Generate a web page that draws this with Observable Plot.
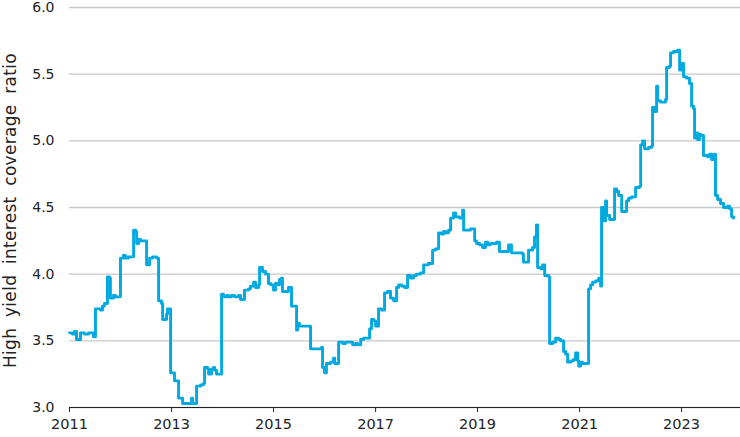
<!DOCTYPE html>
<html><head><meta charset="utf-8">
<script src="https://cdn.jsdelivr.net/npm/d3@7"></script>
<script src="https://cdn.jsdelivr.net/npm/@observablehq/plot@0.6"></script>
<style>
body{margin:0;background:#fff;}
#chart{padding-top:3px;}
#chart svg{display:block;overflow:visible;}
#chart svg g[aria-label="text"] text{word-spacing:5px;letter-spacing:0.3px;}
</style>
</head><body><div id="chart"></div>
<script>
const dates = [
"2011-01-01","2011-01-22","2011-02-06","2011-02-20","2011-03-21","2011-04-18","2011-05-17","2011-06-22","2011-07-06","2011-08-11",
"2011-08-25","2011-09-08","2011-09-30","2011-10-14","2011-10-21","2011-11-12","2011-11-26","2012-01-01","2012-01-22","2012-02-06",
"2012-02-27","2012-04-04","2012-04-18","2012-04-26","2012-05-10","2012-05-24","2012-07-06","2012-07-28","2012-08-18","2012-09-16",
"2012-09-30","2012-10-21","2012-10-29","2012-11-26","2012-12-03","2012-12-25","2013-01-22","2013-02-20","2013-03-21","2013-05-24",
"2013-05-31","2013-06-29","2013-07-28","2013-08-18","2013-08-25","2013-09-16","2013-09-23","2013-10-14","2013-10-29","2013-11-05",
"2013-11-19","2013-12-25","2014-01-08","2014-01-30","2014-02-13","2014-03-06","2014-03-28","2014-04-26","2014-05-10","2014-06-07",
"2014-07-06","2014-07-20","2014-08-11","2014-08-25","2014-09-16","2014-09-23","2014-10-14","2014-11-05","2014-11-26","2014-12-11",
"2015-01-01","2015-01-15","2015-01-30","2015-02-13","2015-02-27","2015-03-06","2015-04-18","2015-05-10","2015-06-15","2015-06-22",
"2015-07-06","2015-09-23","2015-12-11","2015-12-18","2016-01-01","2016-01-15","2016-02-13","2016-03-06","2016-03-14","2016-04-11",
"2016-05-10","2016-05-31","2016-07-20","2016-08-11","2016-08-25","2016-09-16","2016-10-07","2016-11-19","2016-12-03","2016-12-18",
"2017-01-01","2017-01-22","2017-02-13","2017-03-06","2017-03-28","2017-04-18","2017-05-10","2017-05-31","2017-06-15","2017-07-06",
"2017-07-28","2017-08-18","2017-09-08","2017-09-30","2017-10-21","2017-11-19","2017-12-11","2018-01-15","2018-02-13","2018-03-06",
"2018-03-28","2018-04-18","2018-05-03","2018-05-17","2018-06-07","2018-06-22","2018-07-13","2018-07-28","2018-08-25","2018-09-16",
"2018-09-23","2018-11-12","2018-12-11","2018-12-25","2019-01-15","2019-02-06","2019-02-27","2019-03-14","2019-04-04","2019-05-17",
"2019-06-07","2019-07-28","2019-08-11","2019-09-01","2019-10-07","2019-11-19","2019-11-26","2019-12-18","2020-01-01","2020-01-30",
"2020-02-13","2020-02-27","2020-03-06","2020-03-28","2020-04-11","2020-04-26","2020-05-24","2020-05-31","2020-06-22","2020-07-13",
"2020-08-04","2020-08-18","2020-09-08","2020-09-23","2020-10-07","2020-10-29","2020-11-19","2020-12-03","2020-12-18","2020-12-25",
"2021-01-08","2021-01-22","2021-02-27","2021-03-06","2021-03-21","2021-04-04","2021-04-26","2021-05-17","2021-05-31","2021-06-07",
"2021-06-22","2021-07-06","2021-07-13","2021-08-04","2021-09-08","2021-09-23","2021-10-07","2021-10-29","2021-12-03","2021-12-18",
"2022-01-08","2022-02-06","2022-03-06","2022-03-14","2022-03-28","2022-04-11","2022-05-10","2022-05-31","2022-06-07","2022-06-22",
"2022-07-06","2022-07-13","2022-08-04","2022-09-08","2022-09-16","2022-10-07","2022-10-14","2022-11-05","2022-12-03","2022-12-18",
"2023-01-01","2023-01-15","2023-02-06","2023-02-27","2023-03-14","2023-03-28","2023-04-04","2023-04-18","2023-04-26","2023-05-10",
"2023-05-17","2023-06-07","2023-07-06","2023-07-20","2023-08-04","2023-08-25","2023-09-01","2023-09-16","2023-10-07","2023-10-29",
"2023-11-26","2023-12-11","2023-12-25","2024-01-08"
];
const values = [
3.56,3.55,3.57,3.51,3.56,3.55,3.56,3.53,3.74,3.73,
3.76,3.78,3.98,3.97,3.82,3.84,3.83,4.12,4.14,4.12,
4.13,4.33,4.32,4.23,4.26,4.25,4.07,4.12,4.13,4.12,
3.80,3.78,3.66,3.70,3.74,3.26,3.20,3.07,3.03,3.07,
3.03,3.16,3.17,3.18,3.30,3.29,3.25,3.29,3.30,3.28,
3.25,3.85,3.83,3.84,3.83,3.84,3.83,3.84,3.81,3.88,
3.89,3.91,3.94,3.90,3.92,4.05,4.02,4.00,3.93,3.92,
3.88,3.93,3.92,3.96,3.97,3.87,3.90,3.76,3.58,3.63,
3.61,3.44,3.45,3.30,3.26,3.33,3.34,3.37,3.33,3.49,
3.48,3.49,3.47,3.48,3.47,3.51,3.52,3.59,3.66,3.65,
3.61,3.74,3.73,3.86,3.87,3.82,3.80,3.90,3.92,3.91,
3.90,3.99,3.97,3.99,4.00,4.01,4.07,4.08,4.18,4.19,
4.31,4.30,4.32,4.31,4.33,4.42,4.46,4.43,4.42,4.48,
4.33,4.34,4.25,4.23,4.22,4.20,4.24,4.22,4.23,4.24,
4.17,4.17,4.22,4.16,4.16,4.15,4.09,4.09,4.18,4.20,
4.28,4.37,4.05,4.04,4.07,3.99,3.98,3.48,3.49,3.52,
3.51,3.50,3.42,3.40,3.34,3.35,3.36,3.41,3.35,3.31,
3.34,3.33,3.33,3.89,3.92,3.94,3.95,3.97,3.91,4.50,
4.40,4.55,4.44,4.41,4.64,4.62,4.59,4.47,4.55,4.57,
4.58,4.65,4.66,4.97,5.00,4.94,4.95,4.96,5.25,5.22,
5.41,5.30,5.29,5.31,5.55,5.56,5.66,5.67,5.68,5.53,
5.58,5.48,5.47,5.43,5.26,5.24,5.02,5.06,5.01,5.05,
5.04,4.89,4.88,4.90,4.86,4.90,4.59,4.56,4.53,4.50,
4.51,4.49,4.43,4.42
];
const yTicks = [3.0, 3.5, 4.0, 4.5, 5.0, 5.5, 6.0];
const xTickYears = ["2011", "2013", "2015", "2017", "2019", "2021", "2023"];
const yLabel = "High yield interest coverage ratio";
const xDomain = ["2011-01-01", "2024-02-27"];

const data = dates.map((d, i) => ({date: new Date(d), value: values[i]}));
const xTicks = xTickYears.map(y => new Date(y + "-01-01"));

const chart = Plot.plot({
  width: 740, height: 434,
  marginLeft: 69, marginRight: 0, marginTop: 4, marginBottom: 30,
  style: {fontFamily: "'DejaVu Sans', sans-serif", fontSize: "14px", color: "#222", background: "#fff", overflow: "visible"},
  x: {type: "utc", domain: xDomain.map(d => new Date(d))},
  y: {domain: [3, 6]},
  marks: [
    Plot.gridY(yTicks, {stroke: "#c8c8c8", strokeOpacity: 1, strokeWidth: 1.3}),
    Plot.axisY(yTicks, {tickSize: 0, tickPadding: 15, tickFormat: d => d.toFixed(1), label: null, fontSize: 14}),
    Plot.ruleY([3], {stroke: "#222", strokeWidth: 1.2}),
    Plot.axisX(xTicks, {tickSize: 5, tickPadding: 6, tickFormat: d => String(d.getUTCFullYear()), label: null, fontSize: 14.5, stroke: "#222"}),
    Plot.lineY(data, {x: "date", y: "value", curve: "step-after", stroke: "#00a9e0", strokeWidth: 2.9, strokeLinejoin: "round"}),
    Plot.text([yLabel], {frameAnchor: "left", textAnchor: "middle", rotate: -90, dx: -59, dy: 3, fontSize: 17, fill: "#222"})
  ]
});
document.getElementById("chart").appendChild(chart);
</script>
</body></html>
